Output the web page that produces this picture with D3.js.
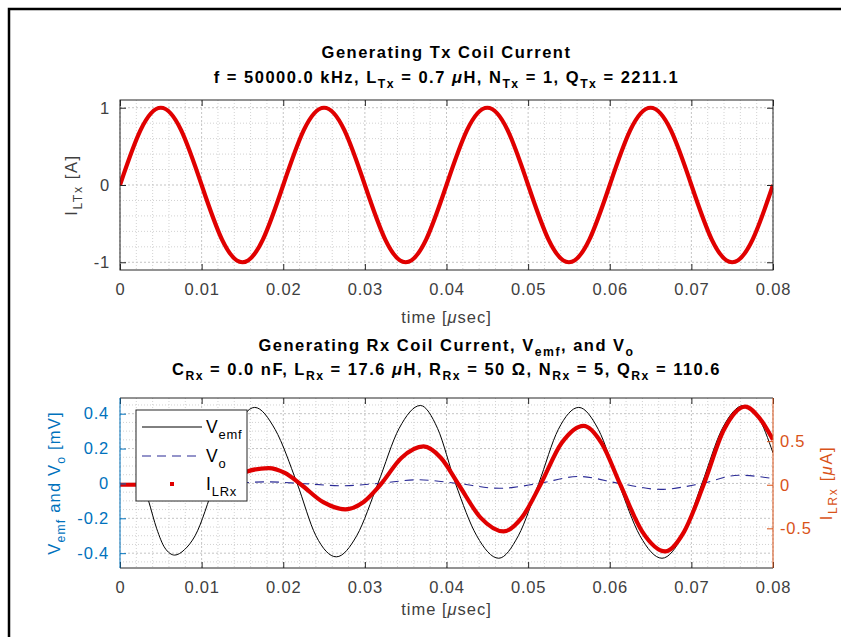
<!DOCTYPE html>
<html>
<head>
<meta charset="utf-8">
<script src="https://cdn.jsdelivr.net/npm/d3@7"></script>
<style>
  body { margin: 0; background: #fff; }
  text { font-family: "Liberation Sans", Arial, Helvetica, sans-serif; }
</style>
</head>
<body>
<svg id="chart" width="841" height="637"></svg>
<script>
// ---- data ----
// top panel: Tx coil current [A] vs time [usec]
const txTime = [0, 0.0025, 0.005, 0.0075, 0.01, 0.0125, 0.015, 0.0175,
    0.02, 0.0225, 0.025, 0.0275, 0.03, 0.0325, 0.035, 0.0375,
    0.04, 0.0425, 0.045, 0.0475, 0.05, 0.0525, 0.055, 0.0575,
    0.06, 0.0625, 0.065, 0.0675, 0.07, 0.0725, 0.075, 0.0775, 0.08];
const txCurrent = [0, 0.707, 1, 0.707, 0, -0.707, -1, -0.707,
    0, 0.707, 1, 0.707, 0, -0.707, -1, -0.707,
    0, 0.707, 1, 0.707, 0, -0.707, -1, -0.707,
    0, 0.707, 1, 0.707, 0, -0.707, -1, -0.707, 0];

// bottom panel: Vemf [mV]
const emfTime = [0, 0.0027, 0.0031, 0.0035, 0.0045, 0.0055, 0.0067, 0.0079, 0.0092, 0.0116,
    0.0141, 0.0165, 0.019, 0.0217, 0.024, 0.0265, 0.029, 0.0316,
    0.0342, 0.0368, 0.0389, 0.0411, 0.0437, 0.0464, 0.0488, 0.0513,
    0.0537, 0.0562, 0.0586, 0.0611, 0.0637, 0.0664, 0.0689, 0.0713,
    0.0738, 0.0764, 0.0782, 0.08];
const emfValue = [0, 0, -0.04, -0.10, -0.26, -0.37, -0.411, -0.38, -0.30, 0,
    0.31, 0.436, 0.31, 0, -0.30, -0.421, -0.30, 0,
    0.316, 0.447, 0.316, 0, -0.30, -0.429, -0.30, 0,
    0.31, 0.436, 0.31, 0, -0.30, -0.429, -0.30, 0,
    0.316, 0.447, 0.38, 0.175];

// bottom panel: Vo [mV]
const voTime = [0, 0.0027, 0.0082, 0.0132, 0.018, 0.0222, 0.0272, 0.0317, 0.0365,
    0.0413, 0.0465, 0.0513, 0.0562, 0.0612, 0.0662, 0.0713, 0.0758, 0.08];
const voValue = [0, 0, -0.003, 0, 0.009, 0, -0.013, 0, 0.021,
    0, -0.028, 0, 0.040, 0, -0.034, 0, 0.047, 0.028];

// bottom panel: Rx coil current [uA] (right axis)
const rxTime = [0, 0.0027, 0.0055, 0.0082, 0.0107, 0.0132,
    0.0155, 0.0182, 0.0202, 0.0222, 0.0249, 0.0276, 0.0298, 0.0319,
    0.0345, 0.0372, 0.0393, 0.0415, 0.0442, 0.047, 0.0492, 0.0515,
    0.0541, 0.0568, 0.059, 0.0613, 0.064, 0.0668, 0.0691, 0.0715,
    0.074, 0.0766, 0.0783, 0.08];
const rxCurrent = [0, 0, -0.04, -0.07, -0.04, 0,
    0.15, 0.191, 0.135, 0, -0.20, -0.282, -0.20, 0,
    0.31, 0.439, 0.31, 0, -0.38, -0.535, -0.38, 0,
    0.478, 0.676, 0.478, 0, -0.54, -0.764, -0.54, 0,
    0.634, 0.897, 0.77, 0.515];

// ticks
const timeTicks = [0, 0.01, 0.02, 0.03, 0.04, 0.05, 0.06, 0.07, 0.08];
const timeTickLabels = ["0", "0.01", "0.02", "0.03", "0.04", "0.05", "0.06", "0.07", "0.08"];
const txTicks = [-1, 0, 1];
const txTickLabels = ["-1", "0", "1"];
const voltTicks = [-0.4, -0.2, 0, 0.2, 0.4];
const voltTickLabels = ["-0.4", "-0.2", "0", "0.2", "0.4"];
const rxTicks = [-0.5, 0, 0.5];
const rxTickLabels = ["-0.5", "0", "0.5"];

// ---- layout ----
const width = 841, height = 637;
const plotLeft = 120, plotRight = 773;
const top1 = 100, bottom1 = 270;
const top2 = 398, bottom2 = 568;
const tickLen = 6;
const fontSize = 16.5;
const axisGray = "#262626";
const tickGray = "#404040";
const leftBlue = "#0072BD";
const rightOrange = "#D95319";
const red = "#e00000";
const dashBlue = "#2b2b96";

const svg = d3.select("#chart");
svg.append("rect").attr("width", width).attr("height", height).attr("fill", "#fff");

// frame of the pasted figure
svg.append("path")
    .attr("d", `M9,${height}V9H${width}`)
    .attr("fill", "none").attr("stroke", "#000").attr("stroke-width", 2.5);

// writes TeX-like text: parts are [string, kind] where kind is "sub" or "it"
function richText(textSel, parts, size)
{
    let lowered = false;
    const shift = size * 0.32;
    parts.forEach(([str, kind]) => {
        const t = textSel.append("tspan").text(str);
        if (kind === "sub") {
            t.attr("font-size", size * 0.74);
            if (!lowered) t.attr("dy", shift);
            lowered = true;
        } else {
            if (lowered) t.attr("dy", -shift);
            lowered = false;
            if (kind === "it") t.attr("font-style", "italic");
        }
    });
    return textSel;
}

function drawGrid(g, x, y, xMajor, yMajor, xMinor, yMinor)
{
    const [x0, x1] = x.range();
    const [yb, yt] = y.range();
    g.append("g").selectAll("line").data(xMinor).join("line")
        .attr("x1", d => x(d)).attr("x2", d => x(d)).attr("y1", yt).attr("y2", yb)
        .attr("stroke", "#d2d2d2").attr("stroke-width", 1).attr("stroke-dasharray", "1,2");
    g.append("g").selectAll("line").data(yMinor).join("line")
        .attr("y1", d => y(d)).attr("y2", d => y(d)).attr("x1", x0).attr("x2", x1)
        .attr("stroke", "#d2d2d2").attr("stroke-width", 1).attr("stroke-dasharray", "1,2");
    g.append("g").selectAll("line").data(xMajor).join("line")
        .attr("x1", d => x(d)).attr("x2", d => x(d)).attr("y1", yt).attr("y2", yb)
        .attr("stroke", "#c4c4c4").attr("stroke-width", 1).attr("stroke-dasharray", "2,2");
    g.append("g").selectAll("line").data(yMajor).join("line")
        .attr("y1", d => y(d)).attr("y2", d => y(d)).attr("x1", x0).attr("x2", x1)
        .attr("stroke", "#c4c4c4").attr("stroke-width", 1).attr("stroke-dasharray", "2,2");
}

function styleAxis(g, color, textColor)
{
    g.select(".domain").remove();
    g.selectAll(".tick line").attr("stroke", color);
    g.selectAll(".tick text")
        .attr("fill", textColor || color)
        .attr("font-size", fontSize)
        .attr("letter-spacing", 0.8)
        .attr("font-family", "Liberation Sans, Arial, sans-serif");
}

const isMajor = (ticks) => (d) => !ticks.some(t => Math.abs(t - d) < 1e-9);
const timeMinor = d3.range(0, 0.0801, 0.002).filter(isMajor(timeTicks));

// ===================== top panel =====================
const x1 = d3.scaleLinear().domain([0, 0.08]).range([plotLeft, plotRight]);
const y1 = d3.scaleLinear().domain([-1.1, 1.1]).range([bottom1, top1]);

const g1 = svg.append("g");
drawGrid(g1, x1, y1, timeTicks, txTicks, timeMinor,
    d3.range(-1, 1.01, 0.2).filter(isMajor(txTicks)));

svg.append("clipPath").attr("id", "clip1").append("rect")
    .attr("x", plotLeft).attr("y", top1).attr("width", plotRight - plotLeft).attr("height", bottom1 - top1);

const txLine = d3.line().x((d, i) => x1(txTime[i])).y(d => y1(d)).curve(d3.curveNatural);
g1.append("path")
    .datum(txCurrent)
    .attr("d", txLine)
    .attr("clip-path", "url(#clip1)")
    .attr("fill", "none").attr("stroke", red).attr("stroke-width", 4.2).attr("stroke-linejoin", "round");

g1.append("g").attr("transform", `translate(0,${bottom1})`)
    .call(d3.axisBottom(x1).tickValues(timeTicks).tickFormat((d, i) => timeTickLabels[i]).tickSize(-tickLen).tickPadding(13))
    .call(g => styleAxis(g, axisGray, tickGray));
g1.append("g").attr("transform", `translate(0,${top1})`)
    .call(d3.axisTop(x1).tickValues(timeTicks).tickFormat("").tickSize(-tickLen))
    .call(g => styleAxis(g, axisGray));
g1.append("g").attr("transform", `translate(${plotLeft},0)`)
    .call(d3.axisLeft(y1).tickValues(txTicks).tickFormat((d, i) => txTickLabels[i]).tickSize(-tickLen).tickPadding(10))
    .call(g => styleAxis(g, axisGray, tickGray));
g1.append("g").attr("transform", `translate(${plotRight},0)`)
    .call(d3.axisRight(y1).tickValues(txTicks).tickFormat("").tickSize(-tickLen))
    .call(g => styleAxis(g, axisGray));

g1.append("rect")
    .attr("x", plotLeft).attr("y", top1).attr("width", plotRight - plotLeft).attr("height", bottom1 - top1)
    .attr("fill", "none").attr("stroke", axisGray).attr("stroke-width", 1);

// titles and labels
const titleSpacing = 1.5;
const centerX = (plotLeft + plotRight) / 2;
richText(svg.append("text").attr("x", centerX).attr("y", 58).attr("letter-spacing", titleSpacing)
    .attr("text-anchor", "middle").attr("font-weight", "bold").attr("font-size", fontSize).attr("fill", "#000"),
    [["Generating Tx Coil Current"]], fontSize);
richText(svg.append("text").attr("x", centerX).attr("y", 83).attr("letter-spacing", titleSpacing)
    .attr("text-anchor", "middle").attr("font-weight", "bold").attr("font-size", fontSize).attr("fill", "#000"),
    [["f = 50000.0 kHz, L"], ["Tx", "sub"], [" = 0.7 "], ["\u03bc", "it"], ["H, N"], ["Tx", "sub"],
     [" = 1, Q"], ["Tx", "sub"], [" = 2211.1"]], fontSize);

richText(svg.append("text").attr("x", centerX).attr("y", 323).attr("letter-spacing", 1)
    .attr("text-anchor", "middle").attr("font-size", fontSize).attr("fill", tickGray),
    [["time ["], ["\u03bc", "it"], ["sec]"]], fontSize);
richText(svg.append("text").attr("transform", `translate(77,${(top1 + bottom1) / 2}) rotate(-90)`)
    .attr("text-anchor", "middle").attr("font-size", fontSize).attr("fill", tickGray).attr("letter-spacing", 1.6),
    [["I"], ["LTx", "sub"], [" [A]"]], fontSize);

// ===================== bottom panel =====================
const x2 = d3.scaleLinear().domain([0, 0.08]).range([plotLeft, plotRight]);
const yL = d3.scaleLinear().domain([-0.485, 0.49]).range([bottom2, top2]);
const yR = d3.scaleLinear().domain([-0.955, 0.995]).range([bottom2, top2]);

const g2 = svg.append("g");
drawGrid(g2, x2, yL, timeTicks, voltTicks, timeMinor,
    d3.range(-0.45, 0.451, 0.05).filter(isMajor(voltTicks)));

svg.append("clipPath").attr("id", "clip2").append("rect")
    .attr("x", plotLeft).attr("y", top2).attr("width", plotRight - plotLeft).attr("height", bottom2 - top2);

const emfLine = d3.line().x((d, i) => x2(emfTime[i])).y(d => yL(d)).curve(d3.curveMonotoneX);
const voLine = d3.line().x((d, i) => x2(voTime[i])).y(d => yL(d)).curve(d3.curveMonotoneX);
const rxLine = d3.line().x((d, i) => x2(rxTime[i])).y(d => yR(d)).curve(d3.curveMonotoneX);

g2.append("path").datum(emfValue).attr("d", emfLine).attr("clip-path", "url(#clip2)")
    .attr("fill", "none").attr("stroke", "#000").attr("stroke-width", 1);
g2.append("path").datum(voValue).attr("d", voLine).attr("clip-path", "url(#clip2)")
    .attr("fill", "none").attr("stroke", dashBlue).attr("stroke-width", 1.1).attr("stroke-dasharray", "9,6");
g2.append("path").datum(rxCurrent).attr("d", rxLine).attr("clip-path", "url(#clip2)")
    .attr("fill", "none").attr("stroke", red).attr("stroke-width", 4.2).attr("stroke-linejoin", "round");

g2.append("g").attr("transform", `translate(0,${bottom2})`)
    .call(d3.axisBottom(x2).tickValues(timeTicks).tickFormat((d, i) => timeTickLabels[i]).tickSize(-tickLen).tickPadding(13))
    .call(g => styleAxis(g, axisGray, tickGray));
g2.append("g").attr("transform", `translate(0,${top2})`)
    .call(d3.axisTop(x2).tickValues(timeTicks).tickFormat("").tickSize(-tickLen))
    .call(g => styleAxis(g, axisGray));
g2.append("g").attr("transform", `translate(${plotLeft},0)`)
    .call(d3.axisLeft(yL).tickValues(voltTicks).tickFormat((d, i) => voltTickLabels[i]).tickSize(-tickLen).tickPadding(11))
    .call(g => styleAxis(g, leftBlue));
g2.append("g").attr("transform", `translate(${plotRight},0)`)
    .call(d3.axisRight(yR).tickValues(rxTicks).tickFormat((d, i) => rxTickLabels[i]).tickSize(-tickLen).tickPadding(7))
    .call(g => styleAxis(g, rightOrange));

// box: top/bottom gray, left blue, right orange
g2.append("line").attr("x1", plotLeft).attr("x2", plotRight).attr("y1", top2).attr("y2", top2).attr("stroke", axisGray);
g2.append("line").attr("x1", plotLeft).attr("x2", plotRight).attr("y1", bottom2).attr("y2", bottom2).attr("stroke", axisGray);
g2.append("line").attr("x1", plotLeft).attr("x2", plotLeft).attr("y1", top2).attr("y2", bottom2).attr("stroke", leftBlue);
g2.append("line").attr("x1", plotRight).attr("x2", plotRight).attr("y1", top2).attr("y2", bottom2).attr("stroke", rightOrange);

richText(svg.append("text").attr("x", centerX).attr("y", 351).attr("letter-spacing", titleSpacing)
    .attr("text-anchor", "middle").attr("font-weight", "bold").attr("font-size", fontSize).attr("fill", "#000"),
    [["Generating Rx Coil Current, V"], ["emf", "sub"], [", and V"], ["o", "sub"]], fontSize);
richText(svg.append("text").attr("x", centerX).attr("y", 375).attr("letter-spacing", titleSpacing)
    .attr("text-anchor", "middle").attr("font-weight", "bold").attr("font-size", fontSize).attr("fill", "#000"),
    [["C"], ["Rx", "sub"], [" = 0.0 nF, L"], ["Rx", "sub"], [" = 17.6 "], ["\u03bc", "it"], ["H, R"], ["Rx", "sub"],
     [" = 50 \u03a9, N"], ["Rx", "sub"], [" = 5, Q"], ["Rx", "sub"], [" = 110.6"]], fontSize);

richText(svg.append("text").attr("x", centerX).attr("y", 615).attr("letter-spacing", 1)
    .attr("text-anchor", "middle").attr("font-size", fontSize).attr("fill", tickGray),
    [["time ["], ["\u03bc", "it"], ["sec]"]], fontSize);
richText(svg.append("text").attr("transform", `translate(60,${(top2 + bottom2) / 2}) rotate(-90)`)
    .attr("text-anchor", "middle").attr("font-size", fontSize).attr("fill", leftBlue).attr("letter-spacing", 1.2),
    [["V"], ["emf", "sub"], [" and V"], ["o", "sub"], [" [mV]"]], fontSize);
richText(svg.append("text").attr("transform", `translate(832,${(top2 + bottom2) / 2}) rotate(-90)`)
    .attr("text-anchor", "middle").attr("font-size", fontSize).attr("fill", rightOrange).attr("letter-spacing", 1.6),
    [["I"], ["LRx", "sub"], [" ["], ["\u03bc", "it"], ["A]"]], fontSize);

// legend
const legendX = 136, legendY = 410, legendW = 111, legendH = 91;
const legend = svg.append("g");
legend.append("rect").attr("x", legendX).attr("y", legendY).attr("width", legendW).attr("height", legendH)
    .attr("fill", "#fff").attr("stroke", axisGray).attr("stroke-width", 1);
const legendFont = 17.5;
const rows = [
    { parts: [["V"], ["emf", "sub"]], y: 427, kind: "solid" },
    { parts: [["V"], ["o", "sub"]], y: 456, kind: "dash" },
    { parts: [["I"], ["LRx", "sub"]], y: 484, kind: "dot" }
];
rows.forEach(r => {
    if (r.kind === "solid")
        legend.append("line").attr("x1", legendX + 6).attr("x2", legendX + 66).attr("y1", r.y).attr("y2", r.y)
            .attr("stroke", "#000").attr("stroke-width", 1);
    else if (r.kind === "dash")
        legend.append("line").attr("x1", legendX + 6).attr("x2", legendX + 66).attr("y1", r.y).attr("y2", r.y)
            .attr("stroke", dashBlue).attr("stroke-width", 1.1).attr("stroke-dasharray", "9,6");
    else
        legend.append("rect").attr("x", legendX + 34).attr("y", r.y - 2).attr("width", 4).attr("height", 4).attr("fill", red);
    richText(legend.append("text").attr("x", legendX + 70).attr("y", r.y + 6).attr("letter-spacing", 0.8)
        .attr("font-size", legendFont).attr("fill", "#000"), r.parts, legendFont);
});
</script>
</body>
</html>
